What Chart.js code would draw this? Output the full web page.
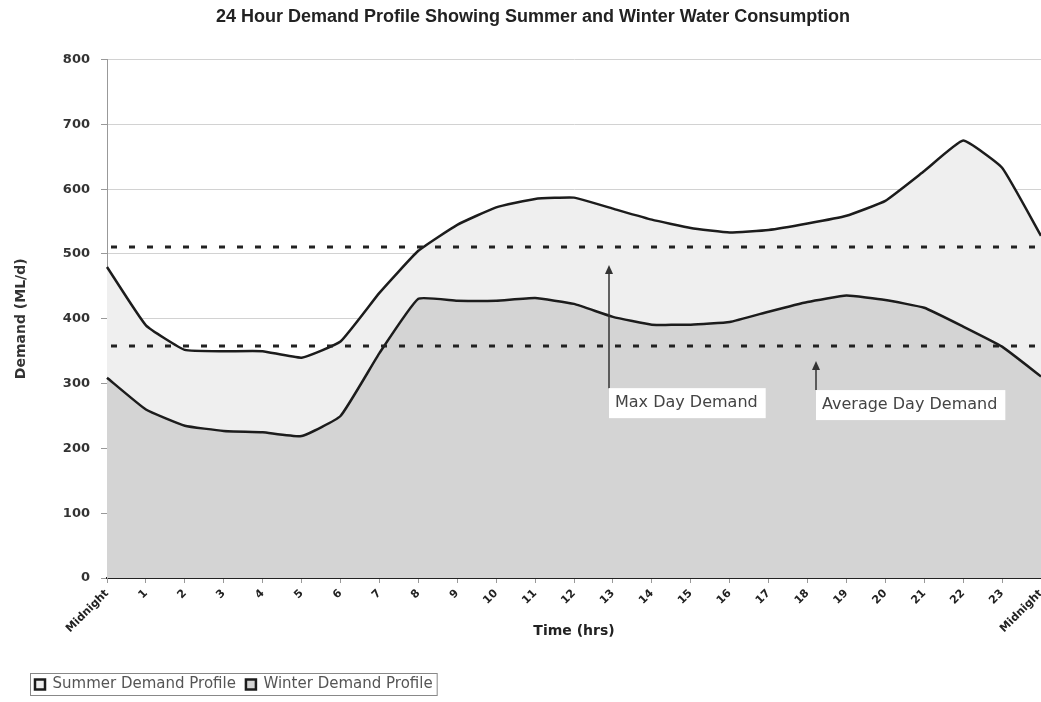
<!DOCTYPE html>
<html>
<head>
<meta charset="utf-8">
<title>24 Hour Demand Profile</title>
<script src="https://cdn.jsdelivr.net/npm/chart.js@4.4.1/dist/chart.umd.min.js"></script>
<style>
	html, body { margin: 0; padding: 0; background: #fff; }
	#wrap { width: 1041px; height: 702px; }
</style>
</head>
<body>
<div id="wrap"><canvas id="chartCanvas" width="1041" height="702"></canvas></div>
<script>
const hours = ['Midnight', '1', '2', '3', '4', '5', '6', '7', '8', '9', '10', '11', '12',
	'13', '14', '15', '16', '17', '18', '19', '20', '21', '22', '23', 'Midnight'];
const summerDemand = [480, 390, 352, 350, 350, 340, 365, 440, 505, 545, 572, 585, 587,
	570, 553, 540, 533, 537, 547, 559, 582, 628, 675, 633, 528];
const winterDemand = [309, 260, 235, 227, 225, 219, 250, 347, 431, 428, 428, 432, 423,
	403, 391, 391, 395, 411, 426, 436, 429, 417, 388, 357, 311];

// reference levels and their callouts
const refNames = ['Max Day Demand', 'Average Day Demand'];
const refLevels = [511, 358];
const arrowAt = [12.89, 18.21];
const arrowTip = [483, 335];
const arrowBase = [293, 290];

const FONT = 'DejaVu Sans';

const demandLines = {
	id: 'demandLines',
	afterDatasetsDraw(chart) {
		const { ctx, chartArea, scales: { x, y } } = chart;
		ctx.save();
		// dotted day demand lines
		ctx.strokeStyle = '#222';
		ctx.lineWidth = 3;
		ctx.setLineDash([6, 12]);
		refLevels.forEach(v => {
			const py = Math.round(y.getPixelForValue(v));
			ctx.beginPath();
			ctx.moveTo(chartArea.left + 4, py);
			ctx.lineTo(chartArea.right, py);
			ctx.stroke();
		});
		ctx.setLineDash([]);

		// arrows with label boxes
		ctx.font = `16px "${FONT}"`;
		ctx.textBaseline = 'middle';
		refNames.forEach((name, i) => {
			const px = Math.round(x.getPixelForValue(arrowAt[i]));
			const tip = y.getPixelForValue(arrowTip[i]);
			const base = y.getPixelForValue(arrowBase[i]);
			ctx.strokeStyle = '#333';
			ctx.lineWidth = 1.5;
			ctx.beginPath();
			ctx.moveTo(px, base);
			ctx.lineTo(px, tip + 5);
			ctx.stroke();
			ctx.fillStyle = '#333';
			ctx.beginPath();
			ctx.moveTo(px, tip);
			ctx.lineTo(px - 4, tip + 9);
			ctx.lineTo(px + 4, tip + 9);
			ctx.closePath();
			ctx.fill();

			const w = ctx.measureText(name).width + 14;
			ctx.fillStyle = '#fff';
			ctx.fillRect(px, base, w, 30);
			ctx.fillStyle = '#444';
			ctx.fillText(name, px + 6, base + 15);
		});
		ctx.restore();
	},
	afterDraw(chart) {
		// frame round the legend, like the spreadsheet one
		const boxes = chart.legend && chart.legend.legendHitBoxes;
		if (!boxes || !boxes.length) return;
		const first = boxes[0];
		const last = boxes[boxes.length - 1];
		const { ctx } = chart;
		ctx.save();
		ctx.strokeStyle = '#888';
		ctx.lineWidth = 1;
		ctx.strokeRect(first.left - 4.5, first.top - 3.5, last.left + last.width - first.left + 9, first.height + 7);
		ctx.restore();
	}
};

function buildChart() {
	const ctx = document.getElementById('chartCanvas').getContext('2d');
	return new Chart(ctx, {
		type: 'line',
		data: {
			labels: hours,
			datasets: [{
				label: 'Summer Demand Profile',
				data: summerDemand,
				borderColor: '#1c1c1c',
				borderWidth: 2.5,
				backgroundColor: '#efefef',
				fill: '+1',
				tension: 0.12,
				pointRadius: 0
			}, {
				label: 'Winter Demand Profile',
				data: winterDemand,
				borderColor: '#1c1c1c',
				borderWidth: 2.5,
				backgroundColor: '#d4d4d4',
				fill: 'origin',
				tension: 0.12,
				pointRadius: 0
			}]
		},
		options: {
			responsive: false,
			animation: false,
			layout: { padding: { left: 25, right: 0, top: 0, bottom: 0 } },
			plugins: {
				filler: { drawTime: 'beforeDatasetsDraw' },
				title: {
					display: true,
					text: '24 Hour Demand Profile Showing Summer and Winter Water Consumption',
					color: '#222',
					font: { family: 'Liberation Sans', size: 18, weight: 'bold' },
					padding: { top: 6, bottom: 32 }
				},
				legend: {
					position: 'bottom',
					align: 'start',
					labels: {
						boxWidth: 10,
						boxHeight: 10,
						padding: 10,
						color: '#555',
						font: { family: FONT, size: 15 }
					}
				},
				tooltip: { enabled: false }
			},
			scales: {
				x: {
					type: 'category',
					offset: false,
					ticks: {
						autoSkip: false,
						minRotation: 45,
						maxRotation: 45,
						padding: 4,
						color: '#222',
						font: { family: FONT, size: 11, weight: 'bold' }
					},
					grid: { drawOnChartArea: false, tickLength: 5, color: '#999' },
					border: { color: '#222', width: 2 },
					title: {
						display: true,
						text: 'Time (hrs)',
						color: '#222',
						font: { family: FONT, size: 14, weight: 'bold' },
						padding: { top: 0, bottom: 27 }
					},
					afterFit(scale) {
						scale.height = 89;
						scale.paddingLeft = 0;
						scale.paddingRight = 0;
					}
				},
				y: {
					min: 0,
					max: 800,
					ticks: {
						stepSize: 100,
						padding: 11,
						color: '#333',
						font: { family: FONT, size: 13, weight: 'bold' }
					},
					grid: { color: '#d2d2d2', tickLength: 6, tickColor: '#999' },
					border: { color: '#999', width: 1 },
					title: {
						display: true,
						text: 'Demand (ML/d)',
						color: '#333',
						font: { family: FONT, size: 14, weight: 'bold' },
						padding: { top: -12, bottom: 0 }
					},
					afterFit(scale) {
						scale.width = 82;
					}
				}
			}
		},
		plugins: [demandLines]
	});
}

window.addEventListener('DOMContentLoaded', buildChart);
</script>
</body>
</html>
